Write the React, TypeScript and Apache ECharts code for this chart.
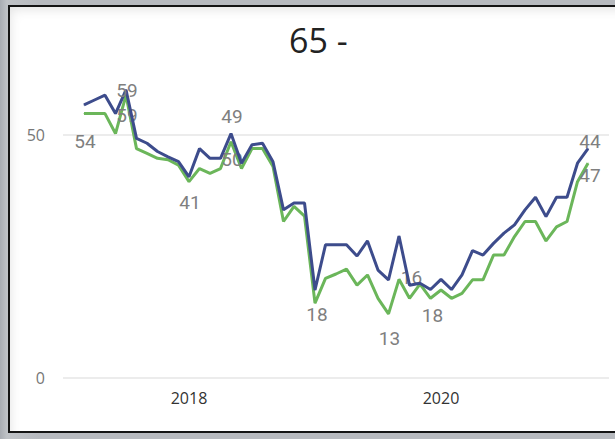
import React, { useEffect, useRef } from "react";
import * as echarts from "echarts";

// Months offset from Jan 2018 (first point = Mar 2017)
const firstMonthOffset = -10;

const blueValues = [
  56.2, 57.2, 58.2, 54.4, 59.3, 49.3, 48.3, 46.6, 45.5, 44.5, 41.4, 47.2, 45.2,
  45.2, 50.3, 44.2, 48.0, 48.3, 44.5, 34.6, 36.0, 36.0, 18.1, 27.4, 27.4, 27.4,
  25.1, 28.2, 22.2, 20.2, 29.2, 19.1, 19.5, 18.2, 20.3, 18.2, 21.2, 26.2, 25.3,
  27.7, 29.8, 31.5, 34.6, 37.2, 33.2, 37.2, 37.2, 44.2, 47.2,
];

const greenValues = [
  54.4, 54.4, 54.4, 50.3, 58.2, 47.2, 46.2, 45.2, 44.9, 43.8, 40.4, 43.1, 42.1,
  43.1, 48.6, 43.1, 47.2, 47.2, 43.5, 32.2, 35.3, 33.3, 15.4, 20.5, 21.4, 22.4,
  19.1, 21.2, 16.4, 13.2, 20.3, 16.4, 19.3, 16.4, 18.1, 16.4, 17.4, 20.2, 20.2,
  25.3, 25.3, 29.1, 32.2, 32.2, 28.2, 31.1, 32.2, 40.4, 44.2,
];

// data label texts by point index
const blueLabels: Record<number, string> = { 4: "59", 14: "49", 48: "44" };
const greenLabels: Record<number, string> = {
  0: "54", 4: "59", 10: "41", 14: "50", 22: "18", 29: "13", 31: "16", 33: "18", 48: "47",
};

const yearLabels = [2018, 2020];
const yTicks = [0, 50];
const titleText = "65 -";

// label placement (styling)
const blueOffsets: Record<number, number[]> = { 4: [1, 1], 14: [1, -17], 48: [2, -7] };
const greenOffsets: Record<number, number[]> = {
  0: [1, 28], 4: [1, 20], 10: [1, 21], 14: [1, 18], 22: [2, 11], 29: [1, 25],
  31: [2, -21], 33: [2, 17], 48: [2, 12],
};

function buildData(values: number[], labels: Record<number, string>, offsets: Record<number, number[]>) {
  return values.map((v, i) => {
    const item: any = { value: [firstMonthOffset + i, v] };
    if (labels[i] !== undefined) {
      item.label = {
        show: true,
        position: "inside",
        offset: offsets[i] || [0, 0],
        formatter: labels[i],
        color: "#7f7f7f",
        fontSize: 19,
        lineHeight: 19,
        fontFamily: "Roboto",
      };
    }
    return item;
  });
}

export default function App() {
  const ref = useRef<HTMLDivElement>(null);

  useEffect(() => {
    if (!ref.current) return;
    const chart = echarts.init(ref.current, null, { renderer: "svg" });
    chart.setOption({
      animation: false,
      title: {
        text: titleText,
        left: 284,
        top: 18,
        textStyle: { fontFamily: "Open Sans", fontWeight: "normal", fontSize: 34, color: "#222" },
      },
      grid: { left: 63, right: 6, top: 135, bottom: 61, containLabel: false },
      xAxis: {
        type: "value",
        min: -12,
        max: 40,
        interval: 12,
        axisLine: { show: false },
        axisTick: { show: false },
        splitLine: { show: false },
        axisLabel: {
          margin: 12,
          color: "#333",
          fontSize: 16,
          fontFamily: "Open Sans",
          formatter: (v: number) => {
            const y = 2018 + v / 12;
            return yearLabels.includes(y) ? String(y) : "";
          },
        },
      },
      yAxis: {
        type: "value",
        min: yTicks[0],
        max: yTicks[1],
        interval: 50,
        axisLine: { show: false },
        axisTick: { show: false },
        splitLine: { lineStyle: { color: "#e6e6e6", width: 1.5 } },
        axisLabel: { margin: 18, color: "#777", fontSize: 16, fontFamily: "Open Sans" },
      },
      series: [
        {
          type: "line",
          data: buildData(greenValues, greenLabels, greenOffsets),
          clip: false,
          symbol: "circle",
          symbolSize: 1,
          showSymbol: true,
          itemStyle: { color: "#6bb65a" },
          lineStyle: { color: "#6bb65a", width: 3 },
          z: 2,
        },
        {
          type: "line",
          data: buildData(blueValues, blueLabels, blueOffsets),
          clip: false,
          symbol: "circle",
          symbolSize: 1,
          showSymbol: true,
          itemStyle: { color: "#3d4c8c" },
          lineStyle: { color: "#3d4c8c", width: 3 },
          z: 3,
        },
      ],
    });
    return () => chart.dispose();
  }, []);

  return (
    <div
      style={{
        position: "fixed",
        left: 0,
        top: 0,
        width: 615,
        height: 439,
        overflow: "hidden",
        background: "linear-gradient(to right, #a8acb2 0px, #bfc2c6 7px, #b7babf 40px)",
      }}
    >
      <div
        style={{
          position: "absolute",
          left: 8,
          top: 5,
          width: 640,
          height: 424,
          border: "2px solid #141414",
          background: "#fff",
          boxShadow: "inset 6px 8px 12px -6px rgba(0,0,0,0.12)",
        }}
      />
      <div ref={ref} style={{ position: "absolute", left: 0, top: 0, width: 615, height: 439 }} />
    </div>
  );
}
